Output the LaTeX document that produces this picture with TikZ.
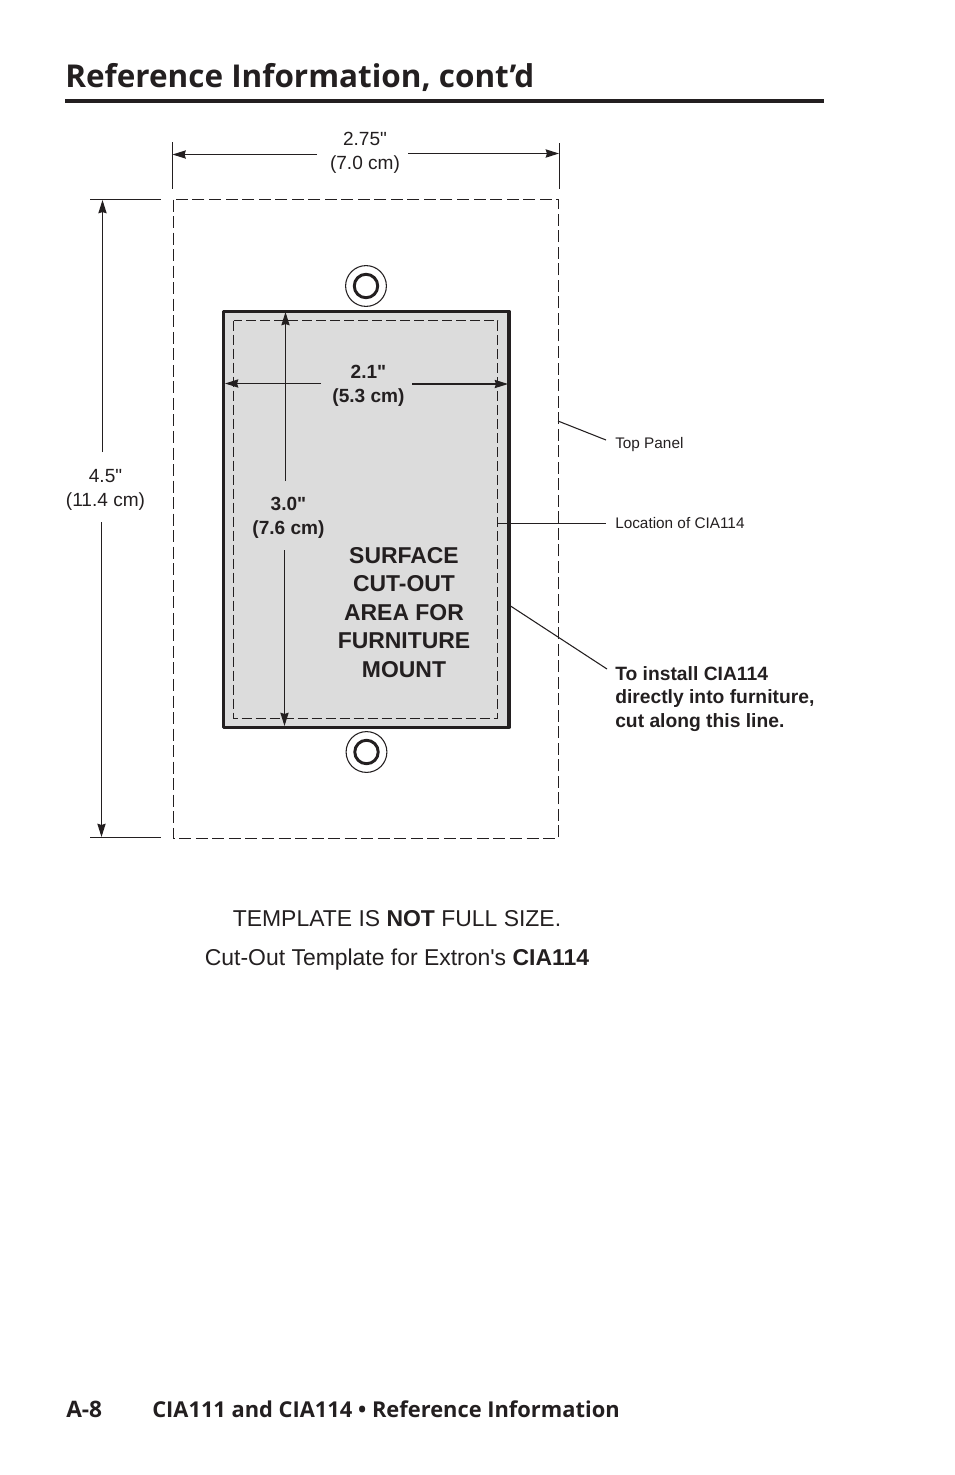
\documentclass[tikz,border=0pt]{standalone}
\usepackage{fontspec}
\usetikzlibrary{arrows.meta}
\newfontfamily\hv{Liberation Sans}
\newfontfamily\os{Open Sans}
\definecolor{ink}{HTML}{231F20}
\definecolor{panel}{HTML}{DCDCDC}
\tikzset{
  lbl/.style={font=\hv\fontsize{14.3}{18}\selectfont,text=ink,align=center,inner sep=0pt},
  lblb/.style={font=\hv\bfseries\fontsize{14.3}{17.6}\selectfont,text=ink,align=center,inner sep=0pt},
  smalltxt/.style={font=\hv\fontsize{11.5}{13}\selectfont,text=ink,anchor=west,inner sep=0pt},
  calltxt/.style={font=\hv\bfseries\fontsize{14.45}{17.6}\selectfont,text=ink,anchor=west,align=left,inner sep=0pt},
  captxt/.style={font=\hv\fontsize{17.2}{20}\selectfont,text=ink,inner sep=0pt},
  thinl/.style={draw=ink,line width=0.8pt},
  dimarrow/.style={draw=ink,line width=0.85pt,-{Stealth[length=10pt,width=6.2pt,inset=1pt]}},
  dash1/.style={draw=ink,line width=0.7pt,dash pattern=on 9pt off 3.4pt},
  dash2/.style={draw=ink,line width=0.7pt,dash pattern=on 7.5pt off 3pt},
}
\begin{document}
\begin{tikzpicture}[x=0.75pt,y=-0.75pt]
\useasboundingbox (0,0) rectangle (954,1475);
% heading
\node[anchor=base west,inner sep=0pt,font=\os\bfseries\fontsize{23.6}{26}\selectfont,text=ink] (title) at (65,87) {Reference Information, cont’d};
\coordinate (ruleL) at (65,101); \coordinate (ruleR) at (824,101);
\draw[draw=ink,line width=2.3pt] (ruleL) -- (ruleR);
% outer dashed
\coordinate (oTL) at (173.5,199.5); \coordinate (oBR) at (558.5,838.5);
\draw[dash1] (oTL) rectangle (oBR);
% panel
\coordinate (pTL) at (223.5,311.2); \coordinate (pBR) at (509,727.5);
\draw[draw=ink,fill=panel,line width=2.3pt,line join=round] (pTL) rectangle (pBR);
\coordinate (iTL) at (233.5,320.5); \coordinate (iBR) at (497.5,718.5);
\draw[dash2] (iTL) rectangle (iBR);
% holes
\foreach \n/\x/\y in {holeA/366/286,holeB/366.5/752}{
  \node[circle,draw=ink,line width=0.8pt,minimum size=30.6pt,inner sep=0pt] (\n) at (\x,\y) {};
  \node[circle,draw=ink,line width=2.2pt,minimum size=17.6pt,inner sep=0pt] (\n i) at (\x,\y) {};
}
% top dimension
\coordinate (t1a) at (172.5,142); \coordinate (t1b) at (172.5,189);
\coordinate (t2a) at (559.5,143); \coordinate (t2b) at (559.5,189);
\draw[thinl] (t1a) -- (t1b); \draw[thinl] (t2a) -- (t2b);
\node[lbl] (wTop) at (365,153) {2.75"\\(7.0 cm)};
\coordinate (a1) at (317,154.5); \coordinate (a2) at (172.5,154.5);
\coordinate (a3) at (408,153.5); \coordinate (a4) at (559,153.5);
\draw[dimarrow] (a1) -- (a2); \draw[dimarrow,line width=1.1pt] (a3) -- (a4);
% left dimension
\coordinate (l1a) at (90,199.5); \coordinate (l1b) at (161,199.5);
\coordinate (l2a) at (90,837.5); \coordinate (l2b) at (161,837.5);
\draw[thinl] (l1a) -- (l1b); \draw[thinl] (l2a) -- (l2b);
\node[lbl] (hLeft) at (105.5,490) {4.5"\\(11.4 cm)};
\coordinate (b1) at (102.5,452); \coordinate (b2) at (102.5,200);
\coordinate (b3) at (101.5,522); \coordinate (b4) at (101.5,837);
\draw[dimarrow] (b1) -- (b2); \draw[dimarrow] (b3) -- (b4);
% inner vertical dimension
\node[lblb] (hIn) at (288.5,518) {3.0"\\(7.6 cm)};
\coordinate (c1) at (285.5,481); \coordinate (c2) at (285.5,312);
\coordinate (c3) at (284.5,550); \coordinate (c4) at (284.5,726);
\draw[dimarrow] (c1) -- (c2); \draw[dimarrow] (c3) -- (c4);
% inner horizontal dimension
\node[lblb] (wIn) at (368.5,386) {2.1"\\(5.3 cm)};
\coordinate (d1) at (321,383.5); \coordinate (d2) at (225,383.5);
\coordinate (d3) at (412,384); \coordinate (d4) at (508,384);
\draw[dimarrow] (d1) -- (d2); \draw[dimarrow] (d3) -- (d4);
% cut-out label
\node[font=\hv\bfseries\fontsize{17.2}{21.4}\selectfont,text=ink,align=center,inner sep=0pt] (cut) at (404,612.5) {SURFACE\\CUT-OUT\\AREA FOR\\FURNITURE\\MOUNT};
% callouts
\node[smalltxt] (top) at (615,445) {Top Panel};
\node[smalltxt] (loc) at (615,523.5) {Location of CIA114};
\node[calltxt,anchor=north west] (inst) at (615,666) {To install CIA114\\directly into furniture,\\cut along this line.};
\coordinate (e1) at (558,421); \coordinate (e2) at (606,440);
\coordinate (f1) at (497,523.5); \coordinate (f2) at (606,523.5);
\coordinate (g1) at (509,605); \coordinate (g2) at (607,669);
\draw[thinl] (e1) -- (e2); \draw[thinl] (f1) -- (f2); \draw[thinl] (g1) -- (g2);
% captions
\node[captxt] (c1t) at (397,918.5) {TEMPLATE IS \textbf{NOT} FULL SIZE.};
\node[captxt] (c2t) at (397,960) {Cut-Out Template for Extron's \textbf{CIA114}};
% footer
\node[anchor=base west,inner sep=0pt,font=\os\bfseries\fontsize{17}{20}\selectfont,text=ink] (pg) at (66,1417) {A-8};
\node[anchor=base west,inner sep=0pt,font=\os\bfseries\fontsize{16.4}{20}\selectfont,text=ink] (foot) at (152,1417) {CIA111 and CIA114 • Reference Information};
\end{tikzpicture}
\end{document}
